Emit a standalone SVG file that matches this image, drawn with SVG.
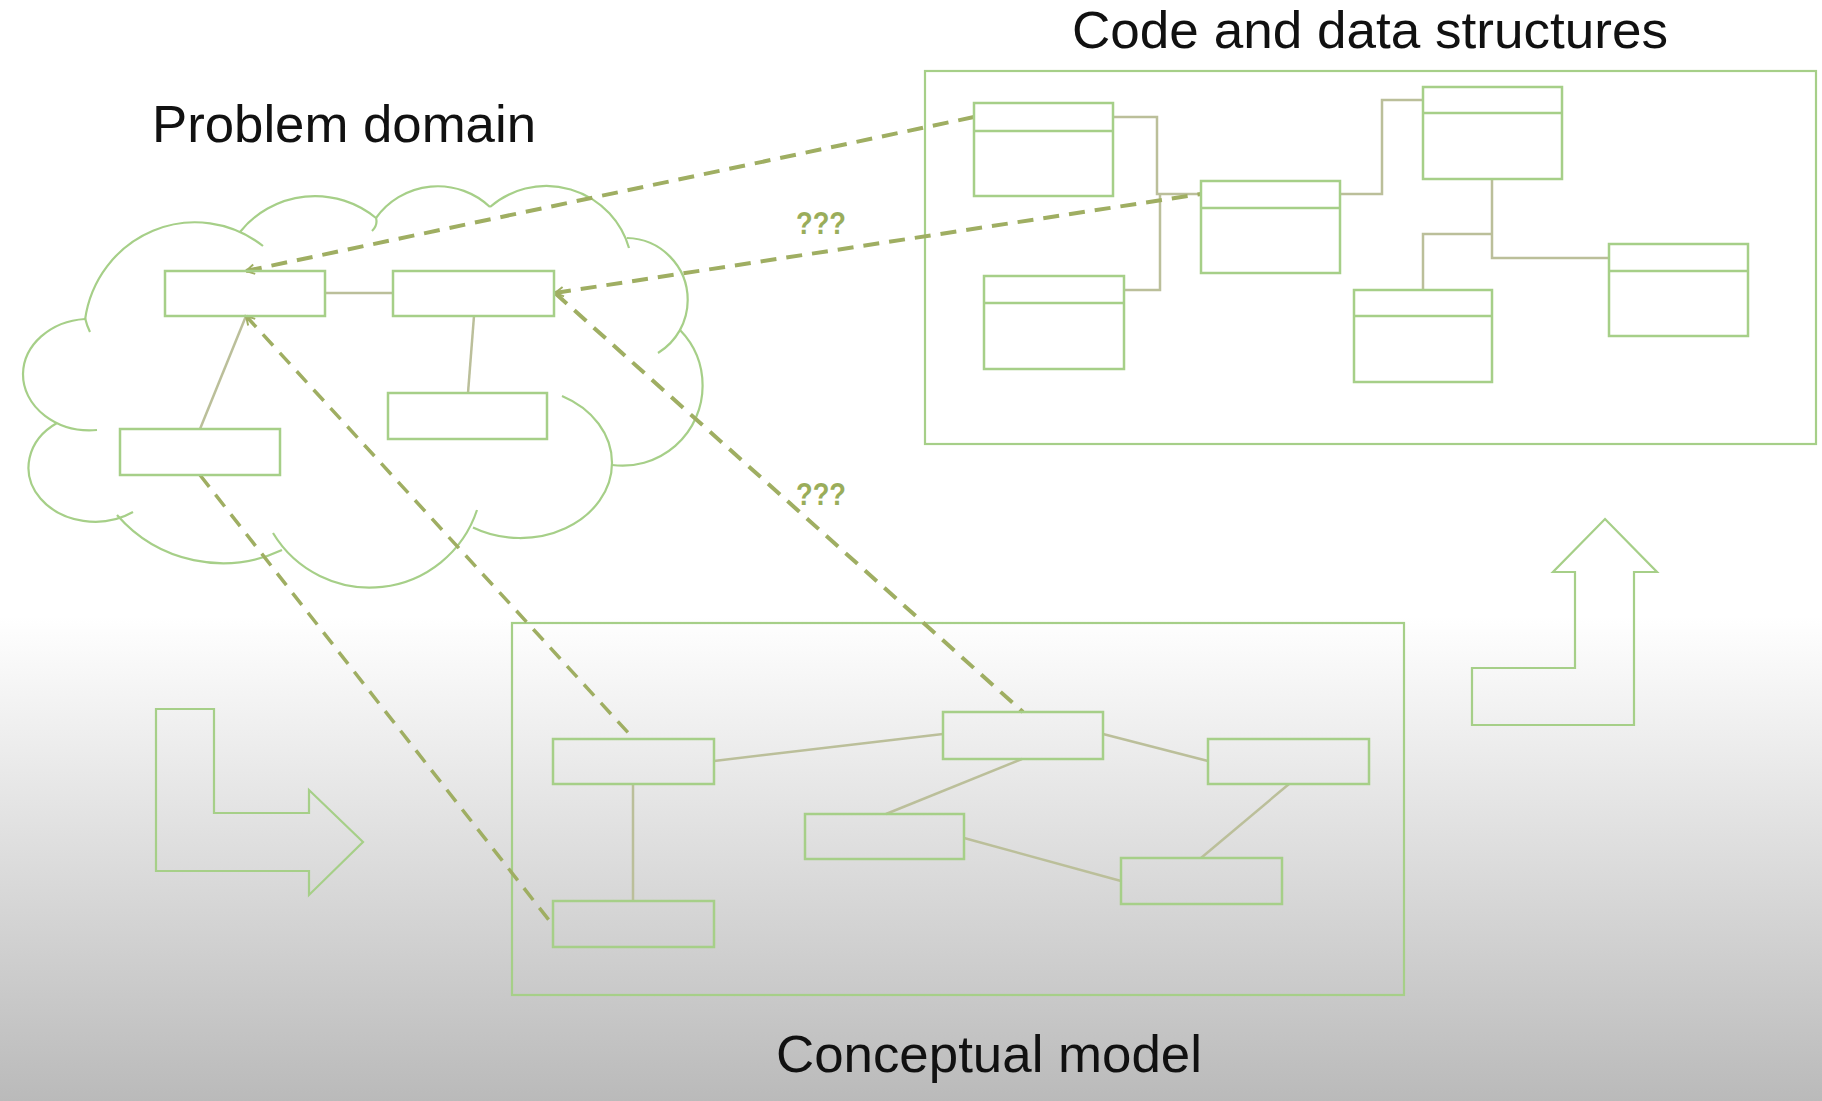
<svg xmlns="http://www.w3.org/2000/svg" width="1822" height="1101" viewBox="0 0 1822 1101">
<defs>
<linearGradient id="bg" x1="0" y1="0" x2="0" y2="1">
<stop offset="0" stop-color="#ffffff"/>
<stop offset="0.56" stop-color="#ffffff"/>
<stop offset="1" stop-color="#bababa"/>
</linearGradient>
<marker id="arr" viewBox="0 0 10 10" refX="8" refY="5" markerWidth="12" markerHeight="12" markerUnits="userSpaceOnUse" orient="auto-start-reverse">
<path d="M1,1 L8,5 L1,9" fill="none" stroke="#9fae62" stroke-width="1.6"/>
</marker>
</defs>
<style>
.box{fill:none;stroke:#a6cf88;stroke-width:2.5}
.frame{fill:none;stroke:#a6cf88;stroke-width:2.2}
.cloud{fill:none;stroke:#a6cf88;stroke-width:2.2}
.link{fill:none;stroke:#bbbf9a;stroke-width:2.5}
.dash{fill:none;stroke:#9fae62;stroke-width:4;stroke-dasharray:16 10}
.dash2{fill:none;stroke:#9fae62;stroke-width:3.5;stroke-dasharray:15 10}
.title{font-family:"Liberation Sans",Arial,sans-serif;font-size:52px;fill:#111}
.q{font-family:"Liberation Sans",Arial,sans-serif;font-size:31px;font-weight:bold;fill:#9aad5a}
</style>
<rect x="0" y="0" width="1822" height="1101" fill="url(#bg)"/>

<g id="titles">
<text class="title" x="152" y="142" textLength="384" lengthAdjust="spacingAndGlyphs">Problem domain</text>
<text class="title" x="1072" y="48" textLength="596" lengthAdjust="spacingAndGlyphs">Code and data structures</text>
<text class="title" x="776" y="1072" textLength="426" lengthAdjust="spacingAndGlyphs">Conceptual model</text>
</g>

<g id="problem-domain-cloud">
<path class="cloud" d="M133,512 A65,53 0 0 1 57,423"/>
<path class="cloud" d="M97,430 A67,56 0 0 1 23,374 A67,56 0 0 1 85,319"/>
<path class="cloud" d="M85,320 A111,113 0 0 1 263,246"/>
<path class="cloud" d="M85,318 Q87,326 90,332"/>
<path class="cloud" d="M240,232 A96,96 0 0 1 376,218 Q378,225 372,231"/>
<path class="cloud" d="M376,218 A76,76 0 0 1 490,207"/>
<path class="cloud" d="M490,207 A86,86 0 0 1 629,248"/>
<path class="cloud" d="M627,238 A62,62 0 0 1 687.7,300 A62,62 0 0 1 658,353"/>
<path class="cloud" d="M680,330 A80,80 0 0 1 702.6,385.7 A80,80 0 0 1 612,465"/>
<path class="cloud" d="M562,396 A92,75 0 0 1 612,463 A92,75 0 0 1 473,527.5"/>
<path class="cloud" d="M477,510 A113,113 0 0 1 273,533"/>
<path class="cloud" d="M282,550 A140,140 0 0 1 117,515"/>
</g>

<g id="code-frame"><rect class="frame" x="925" y="71" width="891" height="373"/></g>
<g id="conceptual-frame"><rect class="frame" x="512" y="623" width="892" height="372"/></g>

<g id="connectors">
<path class="link" d="M324,293 L393,293"/>
<path class="link" d="M474,316 L468,393"/>
<path class="link" d="M246,316 L200,429"/>
<path class="link" d="M1113,117 H1157 V194 H1201"/>
<path class="link" d="M1160,194 V290 H1124"/>
<path class="link" d="M1340,194 H1382 V100 H1423"/>
<path class="link" d="M1492,179 V258 H1609"/>
<path class="link" d="M1492,234 H1423 V290"/>
<path class="link" d="M714,761 L943,734"/>
<path class="link" d="M633,784 V901"/>
<path class="link" d="M1022,759 L886,814"/>
<path class="link" d="M1103,734 L1208,761"/>
<path class="link" d="M964,838 L1121,881"/>
<path class="link" d="M1289,784 L1201,858"/>
<path class="dash" d="M246,271 L974,117" marker-start="url(#arr)"/>
<path class="dash" d="M555,293 L1201,194" marker-start="url(#arr)"/>
<path class="dash" d="M555,293 L1023,712"/>
<path class="dash2" d="M246,316 L633,738" marker-start="url(#arr)"/>
<path class="dash2" d="M200,475 L552,924"/>
</g>

<g id="labels">
<text class="q" x="796" y="234" textLength="50" lengthAdjust="spacingAndGlyphs">???</text>
<text class="q" x="796" y="505" textLength="50" lengthAdjust="spacingAndGlyphs">???</text>
</g>

<g id="pd-a"><rect class="box" x="165" y="271" width="160" height="45"/></g>
<g id="pd-b"><rect class="box" x="393" y="271" width="161" height="45"/></g>
<g id="pd-c"><rect class="box" x="388" y="393" width="159" height="46"/></g>
<g id="pd-d"><rect class="box" x="120" y="429" width="160" height="46"/></g>

<g id="cd-1"><rect class="box" x="974" y="103" width="139" height="93"/><line class="box" x1="974" y1="131" x2="1113" y2="131"/></g>
<g id="cd-2"><rect class="box" x="984" y="276" width="140" height="93"/><line class="box" x1="984" y1="303" x2="1124" y2="303"/></g>
<g id="cd-3"><rect class="box" x="1201" y="181" width="139" height="92"/><line class="box" x1="1201" y1="208" x2="1340" y2="208"/></g>
<g id="cd-4"><rect class="box" x="1423" y="87" width="139" height="92"/><line class="box" x1="1423" y1="113" x2="1562" y2="113"/></g>
<g id="cd-5"><rect class="box" x="1354" y="290" width="138" height="92"/><line class="box" x1="1354" y1="316" x2="1492" y2="316"/></g>
<g id="cd-6"><rect class="box" x="1609" y="244" width="139" height="92"/><line class="box" x1="1609" y1="271" x2="1748" y2="271"/></g>

<g id="cm-1"><rect class="box" x="553" y="739" width="161" height="45"/></g>
<g id="cm-2"><rect class="box" x="553" y="901" width="161" height="46"/></g>
<g id="cm-3"><rect class="box" x="805" y="814" width="159" height="45"/></g>
<g id="cm-4"><rect class="box" x="943" y="712" width="160" height="47"/></g>
<g id="cm-5"><rect class="box" x="1208" y="739" width="161" height="45"/></g>
<g id="cm-6"><rect class="box" x="1121" y="858" width="161" height="46"/></g>

<g id="arrow-right"><polygon class="frame" points="156,709 214,709 214,813 309,813 309,790 363,842 309,895 309,871 156,871"/></g>
<g id="arrow-up"><polygon class="frame" points="1605,519 1657,572 1634,572 1634,725 1472,725 1472,668 1575,668 1575,572 1553,572"/></g>
</svg>
